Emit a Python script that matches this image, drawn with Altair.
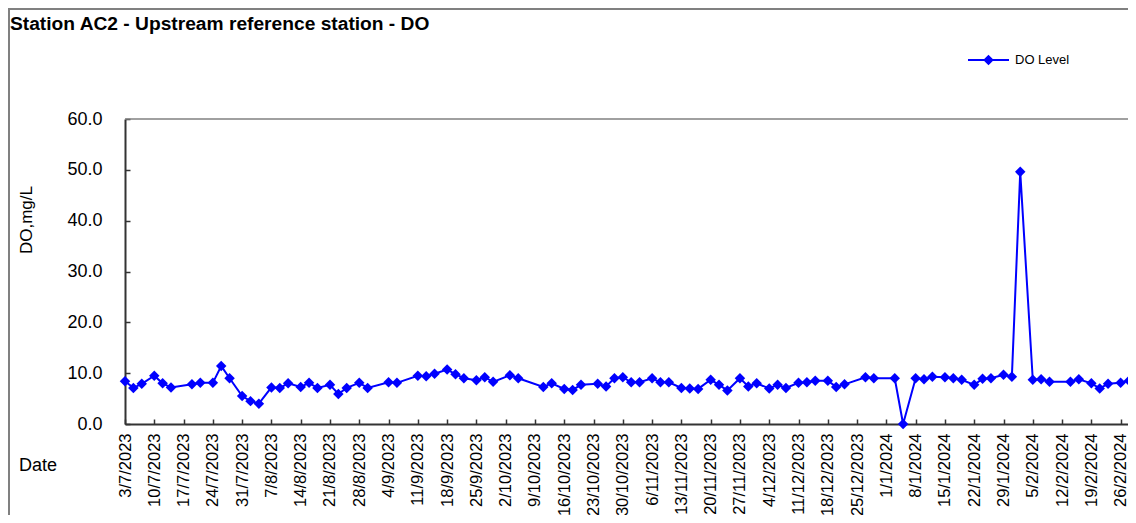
import altair as alt
import pandas as pd

# ---- data ----
sample_dates = [
    "3/7/2023", "5/7/2023", "7/7/2023", "10/7/2023", "12/7/2023", "14/7/2023",
    "19/7/2023", "21/7/2023", "24/7/2023", "26/7/2023", "28/7/2023", "31/7/2023",
    "2/8/2023", "4/8/2023", "7/8/2023", "9/8/2023", "11/8/2023", "14/8/2023",
    "16/8/2023", "18/8/2023", "21/8/2023", "23/8/2023", "25/8/2023", "28/8/2023",
    "30/8/2023",
    "4/9/2023", "6/9/2023", "11/9/2023", "13/9/2023", "15/9/2023", "18/9/2023",
    "20/9/2023", "22/9/2023", "25/9/2023", "27/9/2023", "29/9/2023",
    "3/10/2023", "5/10/2023", "11/10/2023", "13/10/2023", "16/10/2023", "18/10/2023",
    "20/10/2023", "24/10/2023", "26/10/2023", "28/10/2023", "30/10/2023",
    "1/11/2023", "3/11/2023", "6/11/2023", "8/11/2023", "10/11/2023", "13/11/2023",
    "15/11/2023", "17/11/2023", "20/11/2023", "22/11/2023", "24/11/2023", "27/11/2023",
    "29/11/2023",
    "1/12/2023", "4/12/2023", "6/12/2023", "8/12/2023", "11/12/2023", "13/12/2023",
    "15/12/2023", "18/12/2023", "20/12/2023", "22/12/2023", "27/12/2023", "29/12/2023",
    "3/1/2024", "5/1/2024", "8/1/2024", "10/1/2024", "12/1/2024", "15/1/2024",
    "17/1/2024", "19/1/2024", "22/1/2024", "24/1/2024", "26/1/2024", "29/1/2024",
    "31/1/2024",
    "2/2/2024", "5/2/2024", "7/2/2024", "9/2/2024", "14/2/2024", "16/2/2024",
    "19/2/2024", "21/2/2024", "23/2/2024", "26/2/2024", "28/2/2024",
]

do_values = [
    8.4, 7.1, 7.9, 9.5, 8.0, 7.2, 7.8, 8.1, 8.1, 11.4, 9.0, 5.5,
    4.5, 4.0, 7.2, 7.1, 8.0, 7.3, 8.1, 7.1, 7.7, 5.9, 7.1, 8.1, 7.1,
    8.2, 8.1, 9.5, 9.4, 9.9, 10.7, 9.8, 9.0, 8.6, 9.2, 8.3,
    9.6, 9.0, 7.3, 8.0, 6.9, 6.7, 7.7, 7.9, 7.4, 9.0, 9.2,
    8.2, 8.2, 9.0, 8.2, 8.2, 7.1, 7.0, 6.9, 8.7, 7.7, 6.6, 9.0, 7.4,
    8.0, 7.0, 7.7, 7.1, 8.1, 8.2, 8.5, 8.5, 7.3, 7.8, 9.2, 9.0,
    9.0, 0.0, 9.0, 8.8, 9.3, 9.2, 9.0, 8.7, 7.7, 8.9, 9.0, 9.7, 9.3,
    49.6, 8.7, 8.8, 8.3, 8.3, 8.8, 8.0, 7.0, 7.9, 8.1, 8.5,
]

x_tick_labels = [
    "3/7/2023", "10/7/2023", "17/7/2023", "24/7/2023", "31/7/2023",
    "7/8/2023", "14/8/2023", "21/8/2023", "28/8/2023",
    "4/9/2023", "11/9/2023", "18/9/2023", "25/9/2023",
    "2/10/2023", "9/10/2023", "16/10/2023", "23/10/2023", "30/10/2023",
    "6/11/2023", "13/11/2023", "20/11/2023", "27/11/2023",
    "4/12/2023", "11/12/2023", "18/12/2023", "25/12/2023",
    "1/1/2024", "8/1/2024", "15/1/2024", "22/1/2024", "29/1/2024",
    "5/2/2024", "12/2/2024", "19/2/2024", "26/2/2024",
]
x_domain = ["3/7/2023", "28/2/2024"]
y_ticks = [0, 10, 20, 30, 40, 50, 60]

series_name = "DO Level"
chart_title = "Station AC2 - Upstream reference station - DO"
y_title = "DO,mg/L"
x_title = "Date"

# ---- build table ----
df = pd.DataFrame({
    "date": pd.to_datetime(sample_dates, format="%d/%m/%Y"),
    "do": do_values,
    "series": series_name,
})


def to_dt(s):
    d, m, y = (int(v) for v in s.split("/"))
    return alt.DateTime(year=y, month=m, date=d)


tick_values = [to_dt(s) for s in x_tick_labels]
domain_values = [to_dt(s) for s in x_domain]

FONT = "Liberation Sans, Arial, sans-serif"
BLUE = "#0000FF"
AXIS_COL = "#333333"
BORDER = "#808080"
W, H = 1001, 305      # visible plot width (page is cut at the right edge)
X_RANGE = 1004        # full date-axis length; the last px fall off the page

x_scale = alt.Scale(domain=domain_values, range=[0, X_RANGE])
y_scale = alt.Scale(domain=[0, 60], nice=False, zero=True)

color_enc = alt.Color(
    "series:N",
    scale=alt.Scale(domain=[series_name], range=[BLUE]),
    legend=alt.Legend(
        orient="none", legendX=842, legendY=-80.5, title=None,
        symbolType="M-1,0L1,0M0,-0.19L0.19,0L0,0.19L-0.19,0Z",
        symbolSize=1681, symbolStrokeWidth=2,
        symbolStrokeColor=BLUE, symbolFillColor=BLUE,
        labelFontSize=13, labelFont=FONT, labelColor="black",
        labelOffset=5, padding=0,
    ),
)

main_x_axis = alt.Axis(
    values=tick_values, format="%-d/%-m/%Y", labelAngle=-90,
    labelFontSize=16.5, labelFont=FONT, labelColor="black",
    labelPadding=9, ticks=False, tickSize=0, grid=False,
    domainColor=AXIS_COL, domainWidth=2, labelOverlap=False,
    title=x_title, titleAngle=0, titleX=-87.5, titleY=46,
    titleAlign="center", titleBaseline="alphabetic",
    titleFontSize=18, titleFont=FONT, titleFontWeight="normal", titleColor="black",
)
main_y_axis = alt.Axis(
    values=y_ticks, format=".1f",
    labelFontSize=18, labelFont=FONT, labelColor="black",
    labelPadding=23, ticks=False, tickSize=0, grid=False,
    domainColor=AXIS_COL, domainWidth=2,
    title=y_title, titleAngle=-90, titleX=-93.3, titleY=100.5,
    titleAlign="center", titleBaseline="alphabetic",
    titleFontSize=17, titleFont=FONT, titleFontWeight="normal", titleColor="black",
)
# inward-pointing tick marks (mirrored axes placed on the plot edges)
tick_x_axis = alt.Axis(
    orient="top", offset=-H, values=tick_values, labels=False, domain=False,
    ticks=True, tickSize=5, tickColor=AXIS_COL, tickWidth=1.5, grid=False, title=None,
)
tick_y_axis = alt.Axis(
    orient="right", offset=-W, values=y_ticks, labels=False, domain=False,
    ticks=True, tickSize=5, tickColor=AXIS_COL, tickWidth=1.5, grid=False, title=None,
)

base = alt.Chart(df)

line = base.mark_line(color=BLUE, strokeWidth=2).encode(
    x=alt.X("date:T", scale=x_scale, axis=main_x_axis),
    y=alt.Y("do:Q", scale=y_scale, axis=main_y_axis),
    color=color_enc,
)
points = base.mark_point(shape="diamond", filled=True, size=110, opacity=1, color=BLUE).encode(
    x=alt.X("date:T", scale=x_scale, axis=tick_x_axis),
    y=alt.Y("do:Q", scale=y_scale, axis=tick_y_axis),
    color=color_enc,
)

one = alt.Data(values=[{"k": 1}])

# outer chart frame (its right/bottom sides lie beyond the page)
frame = alt.Chart(one).mark_rect(
    fillOpacity=0, stroke=BORDER, strokeWidth=2
).encode(
    x=alt.value(-116), x2=alt.value(1030), y=alt.value(-110), y2=alt.value(420)
)
# plot-area top border (runs off the page on the right)
plot_top = alt.Chart(one).mark_rule(color=BORDER, strokeWidth=1.5).encode(
    x=alt.value(0), x2=alt.value(X_RANGE), y=alt.value(0)
)

title_txt = alt.Chart(alt.Data(values=[{"t": chart_title}])).mark_text(
    align="left", baseline="alphabetic", fontSize=19.2, fontWeight="bold",
    font=FONT, color="black",
).encode(x=alt.value(-115), y=alt.value(-89), text="t:N")

chart = (
    alt.layer(frame, plot_top, line, points, title_txt)
    .resolve_axis(x="independent", y="independent")
    .properties(
        width=W, height=H,
        autosize=alt.AutoSizeParams(type="none"),
        padding={"left": 117, "top": 111, "right": 2, "bottom": 91},
        background="white",
    )
    .configure_view(stroke=None)
)

chart.save("out.html", embed_options={"renderer": "svg", "actions": False})
